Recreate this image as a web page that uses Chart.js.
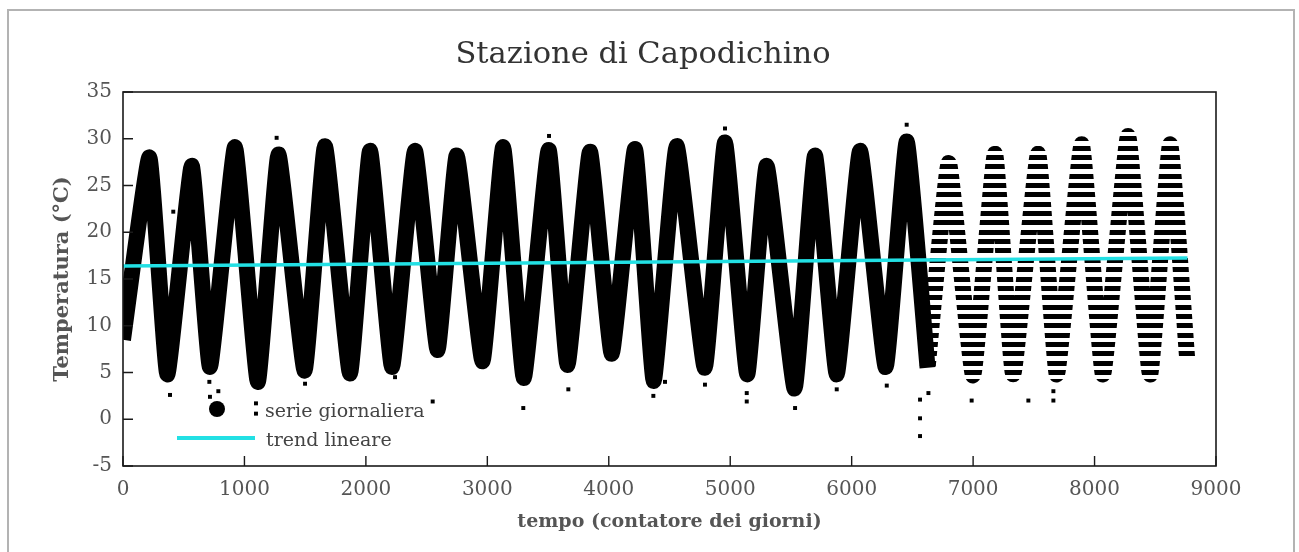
<!DOCTYPE html>
<html>
<head>
<meta charset="utf-8">
<script src="https://cdn.jsdelivr.net/npm/chart.js@4.4.1/dist/chart.umd.min.js"></script>
<style>
  html, body { margin: 0; padding: 0; background: #fff; }
  #wrap { position: relative; width: 1299px; height: 552px; }
  canvas { display: block; }
  .lg { position: absolute; font-family: "DejaVu Serif"; font-size: 19px; line-height: 20px; color: #444; white-space: nowrap; }
</style>
</head>
<body>
<div id="wrap">
  <canvas id="chart" width="1299" height="552"></canvas>
  <div class="lg" style="left:209px;top:401px;width:16px;height:16px;border-radius:50%;background:#000"></div>
  <div class="lg" style="left:265px;top:400px">serie giornaliera</div>
  <div class="lg" style="left:177px;top:436px;width:78px;height:4px;background:#22e0e4"></div>
  <div class="lg" style="left:266px;top:429px">trend lineare</div>
</div>
<script>
// peaks and troughs of the daily cloud (day count, °C)
const denseDays  = [0, 217, 365, 566, 716, 922, 1110, 1280, 1495, 1663, 1869, 2034, 2215, 2404, 2590, 2748, 2960, 3130, 3300, 3505, 3660, 3845, 4024, 4216, 4370, 4559, 4790, 4957, 5140, 5300, 5530, 5698, 5877, 6069, 6280, 6453, 6625];
const denseTemps = [8.5, 28.0, 4.8, 27.1, 5.6, 29.1, 4.0, 28.3, 5.2, 29.2, 4.9, 28.7, 5.6, 28.7, 7.4, 28.2, 6.2, 29.1, 4.4, 28.8, 5.8, 28.6, 7.0, 28.9, 4.1, 29.2, 5.5, 29.6, 4.8, 27.1, 3.3, 28.2, 4.8, 28.7, 5.6, 29.7, 5.5];

// last years, values recorded as whole degrees
const quantDays  = [6625, 6800, 7000, 7180, 7330, 7535, 7690, 7894, 8070, 8276, 8457, 8622, 8762];
const quantTemps = [5.5, 27.4, 4.7, 28.4, 4.8, 28.4, 4.8, 29.4, 4.8, 30.3, 4.8, 29.4, 6.6];

// isolated days standing out of the cloud
const outlierDays  = [387, 414, 711, 716, 785, 1095, 1095, 1265, 1499, 2240, 2550, 3296, 3508, 3667, 4367, 4463, 4792, 4957, 5136, 5136, 5534, 5877, 6289, 6453, 6563, 6632, 6563, 6563, 6988, 7455, 7661, 7661];
const outlierTemps = [2.6, 22.2, 4.0, 2.4, 3.0, 1.7, 0.6, 30.1, 3.8, 4.5, 1.9, 1.2, 30.3, 3.2, 2.5, 4.0, 3.7, 31.1, 1.9, 2.8, 1.2, 3.2, 3.6, 31.5, 2.1, 2.8, 0.1, -1.8, 2, 2, 2, 3];

const trendDays  = [0, 8765];
const trendTemps = [16.4, 17.25];

const xTicks = [0, 1000, 2000, 3000, 4000, 5000, 6000, 7000, 8000, 9000];
const yTicks = [-5, 0, 5, 10, 15, 20, 25, 30, 35];

function pts(xs, ys) {
    return xs.map((d, i) => ({ x: d, y: ys[i] }));
}

let stripes = null;

const stripePlugin = {
    id: 'stripes',
    afterLayout(chart) {
        const c = document.createElement('canvas');
        c.width = chart.width;
        c.height = chart.height;
        const g = c.getContext('2d');
        g.fillStyle = '#000';
        for (let v = -5; v <= 35; v++) {
            const py = chart.scales.y.getPixelForValue(v);
            g.fillRect(0, Math.round(py - 2.5), c.width, 5);
        }
        stripes = chart.ctx.createPattern(c, 'no-repeat');
    }
};

const framePlugin = {
    id: 'frame',
    beforeDraw(chart) {
        const c = chart.ctx;
        c.save();
        c.strokeStyle = '#b3b3b3';
        c.lineWidth = 2;
        c.strokeRect(8, 10, 1286, 560);
        c.restore();
    },
    afterDatasetsDraw(chart) {
        const { ctx: c, chartArea: a, scales: { x, y } } = chart;
        c.save();
        c.strokeStyle = '#1a1a1a';
        c.lineWidth = 1.6;
        c.strokeRect(a.left, a.top, a.right - a.left, a.bottom - a.top);
        c.lineWidth = 1.4;
        c.beginPath();
        x.ticks.forEach(t => {
            const px = x.getPixelForValue(t.value);
            c.moveTo(px, a.bottom);
            c.lineTo(px, a.bottom - 10);
        });
        y.ticks.forEach(t => {
            const py = y.getPixelForValue(t.value);
            c.moveTo(a.left, py);
            c.lineTo(a.left + 10, py);
        });
        c.stroke();
        c.restore();
    }
};

const ctx = document.getElementById('chart');

window.chart = new Chart(ctx, {
    type: 'scatter',
    data: {
        datasets: [{
            label: 'trend lineare',
            data: pts(trendDays, trendTemps),
            showLine: true,
            borderColor: '#22e0e4',
            borderWidth: 3.5,
            pointRadius: 0,
            clip: 0,
            order: 0
        }, {
            label: 'serie giornaliera',
            data: pts(outlierDays, outlierTemps),
            pointStyle: 'rect',
            pointRadius: 2.8,
            backgroundColor: '#000',
            borderWidth: 0,
            clip: 0,
            order: 1
        }, {
            label: 'serie giornaliera',
            data: pts(denseDays, denseTemps),
            showLine: true,
            borderColor: '#000',
            borderWidth: 16,
            borderJoinStyle: 'round',
            tension: 0.12,
            pointRadius: 0,
            clip: 0,
            order: 2
        }, {
            label: 'serie giornaliera',
            data: pts(quantDays, quantTemps),
            showLine: true,
            borderColor: () => stripes || '#000',
            borderWidth: 16,
            borderJoinStyle: 'round',
            tension: 0.12,
            pointRadius: 0,
            clip: 0,
            order: 3
        }]
    },
    options: {
        responsive: false,
        animation: false,
        devicePixelRatio: 1,
        events: [],
        layout: { padding: { left: 0, right: 13, top: 0, bottom: 0 } },
        plugins: {
            legend: { display: false },
            tooltip: { enabled: false },
            title: {
                display: true,
                text: 'Stazione di Capodichino',
                color: '#333',
                font: { family: 'DejaVu Serif', size: 30.5, weight: 'normal' },
                padding: { top: 37, bottom: 18.4 }
            }
        },
        scales: {
            x: {
                type: 'linear',
                min: 0,
                max: 9000,
                afterBuildTicks: s => { s.ticks = xTicks.map(v => ({ value: v })); },
                afterFit: s => { s.height = 86; },
                grid: { display: false, drawTicks: false },
                border: { display: false },
                ticks: {
                    color: '#555',
                    font: { family: 'DejaVu Serif', size: 20 },
                    padding: 12,
                    maxRotation: 0,
                    callback: v => String(v)
                },
                title: {
                    display: true,
                    text: 'tempo (contatore dei giorni)',
                    color: '#555',
                    font: { family: 'DejaVu Serif', size: 19, weight: 'bold' },
                    padding: { top: 0, bottom: 19 }
                }
            },
            y: {
                type: 'linear',
                min: -5,
                max: 35,
                afterBuildTicks: s => { s.ticks = yTicks.map(v => ({ value: v })); },
                afterFit: s => { s.width = 123; },
                grid: { display: false, drawTicks: false },
                border: { display: false },
                ticks: {
                    color: '#555',
                    font: { family: 'DejaVu Serif', size: 20 },
                    padding: 11,
                    callback: v => String(v)
                },
                title: {
                    display: true,
                    text: 'Temperatura (°C)',
                    color: '#555',
                    font: { family: 'DejaVu Serif', size: 21, weight: 'bold' },
                    padding: { top: 50, bottom: 0 }
                }
            },
            yRight: {
                type: 'linear',
                position: 'right',
                min: -5,
                max: 35,
                afterFit: s => { s.width = 70; },
                grid: { display: false, drawTicks: false },
                border: { display: false },
                ticks: { display: false }
            }
        }
    },
    plugins: [stripePlugin, framePlugin]
});
</script>
</body>
</html>
